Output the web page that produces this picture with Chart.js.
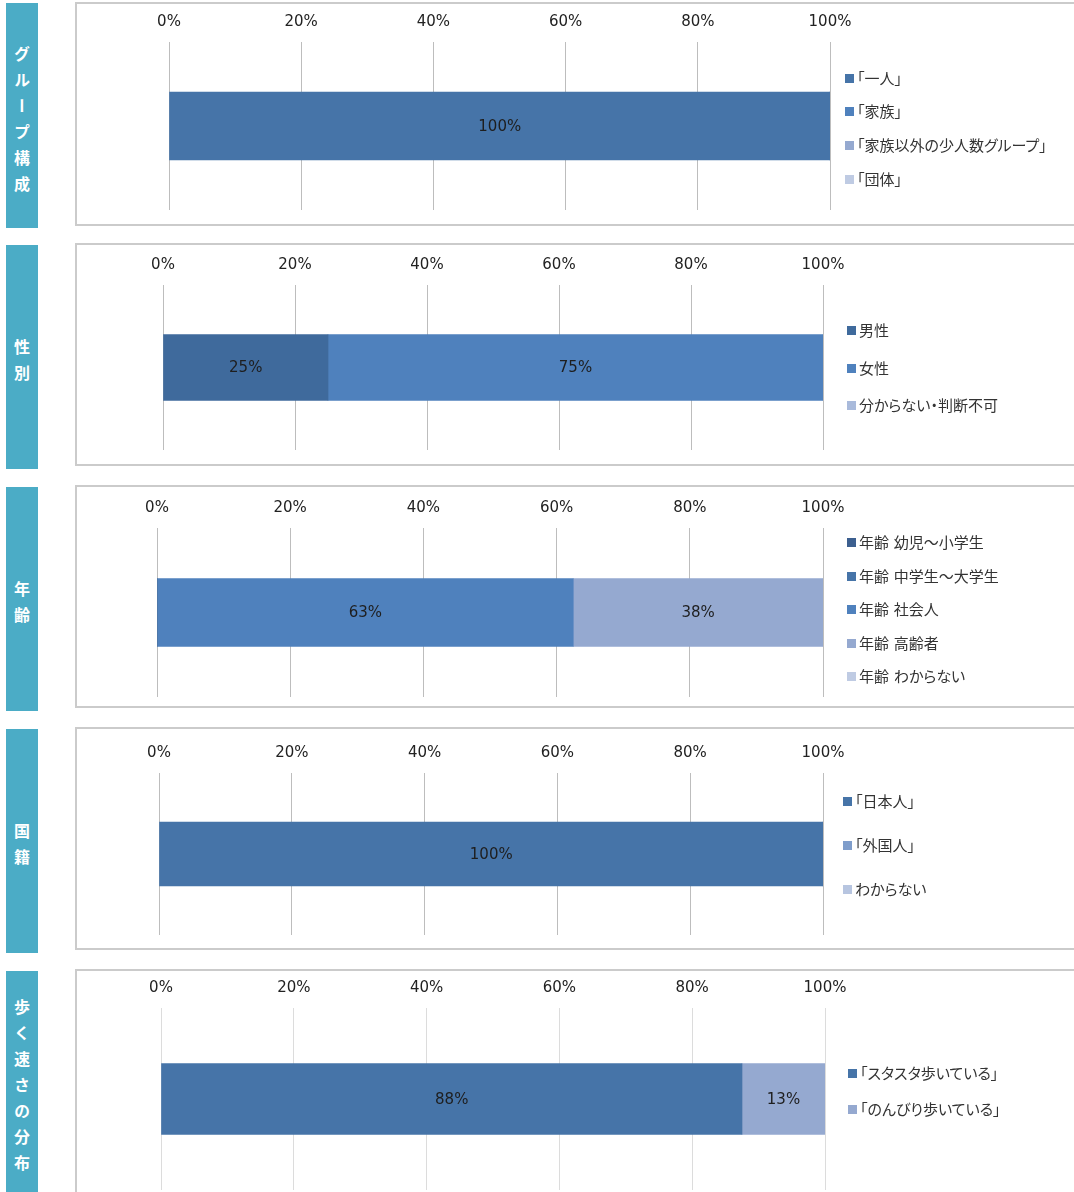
<!DOCTYPE html>
<html>
<head>
<meta charset="utf-8">
<script src="https://cdn.jsdelivr.net/npm/chart.js@4"></script>
<style>
  body { margin: 0; background: #fff; overflow: hidden; width: 1074px; height: 1192px; position: relative;
         font-family: "DejaVu Sans", "Noto Sans CJK JP", sans-serif; }
  .side { position: absolute; left: 6px; width: 32px; background: #4bacc6; color: #fff;
          display: flex; align-items: center; justify-content: center; }
  .side span { writing-mode: vertical-rl; text-orientation: upright; font-weight: bold;
               font-family: "Noto Sans CJK JP", sans-serif;
               font-size: 16px; letter-spacing: 10px; line-height: 1; margin-bottom: -16px; }
  .frame { position: absolute; left: 75px; width: 1010px; border: 2px solid #cbcbcb; box-sizing: border-box; }
  canvas { position: absolute; }
  .leg { position: absolute; font-size: 15px; color: #333; white-space: nowrap; line-height: 20px;
         font-feature-settings: "palt"; }
  .leg i { display: inline-block; width: 9px; height: 9px; margin-right: 3px; vertical-align: 1px; }
</style>
</head>
<body>
<script>
// Tick labels on the shared 0-100% axis
const tickLabels = ['0%', '20%', '40%', '60%', '80%', '100%'];

// グループ構成
const groupLabels = ['「一人」', '「家族」', '「家族以外の少人数グループ」', '「団体」'];
const groupValues = [100, 0, 0, 0];
const groupColors = ['#4674a8', '#4f81bd', '#95a9d0', '#bfcbe3'];

// 性別
const sexLabels = ['男性', '女性', '分からない・判断不可'];
const sexValues = [25, 75, 0];
const sexColors = ['#3f6a9c', '#4f81bd', '#a9badb'];

// 年齢
const ageLabels = ['年齢 幼児～小学生', '年齢 中学生～大学生', '年齢 社会人', '年齢 高齢者', '年齢 わからない'];
const ageValues = [0, 0, 62.5, 37.5, 0];
const ageColors = ['#3c5f8f', '#4674a8', '#4f81bd', '#95a9d0', '#bfcbe3'];

// 国籍
const nationLabels = ['「日本人」', '「外国人」', 'わからない'];
const nationValues = [100, 0, 0];
const nationColors = ['#4674a8', '#7f9dcb', '#b7c5e0'];

// 歩く速さの分布
const speedLabels = ['「スタスタ歩いている」', '「のんびり歩いている」'];
const speedValues = [87.5, 12.5];
const speedColors = ['#4674a8', '#95a9d0'];

// page layout of each panel (pixels)
const panels = [
  { title: 'グループ構成', labels: groupLabels, values: groupValues, colors: groupColors,
    side: [3, 228], frame: [2, 226], x0: 169, x1: 830, grid: [42, 210], bar: 68,
    legX: 845, legY: [79, 112, 146, 180], gridColor: '#bdbdbd' },
  { title: '性別', labels: sexLabels, values: sexValues, colors: sexColors,
    side: [245, 469], frame: [243, 466], x0: 163, x1: 823, grid: [285, 450], bar: 66,
    legX: 847, legY: [331, 369, 406], gridColor: '#bdbdbd' },
  { title: '年齢', labels: ageLabels, values: ageValues, colors: ageColors,
    side: [487, 711], frame: [485, 708], x0: 157, x1: 823, grid: [528, 697], bar: 68,
    legX: 847, legY: [543, 577, 610, 644, 677], gridColor: '#bdbdbd' },
  { title: '国籍', labels: nationLabels, values: nationValues, colors: nationColors,
    side: [729, 953], frame: [727, 950], x0: 159, x1: 823, grid: [773, 935], bar: 64,
    legX: 843, legY: [802, 846, 890], gridColor: '#bdbdbd' },
  { title: '歩く速さの分布', labels: speedLabels, values: speedValues, colors: speedColors,
    side: [971, 1193], frame: [969, 1200], x0: 161, x1: 825, grid: [1008, 1190], bar: 71,
    legX: 848, legY: [1074, 1110], gridColor: '#dcdcdc' }
];

const FONT = '"DejaVu Sans", "Noto Sans", sans-serif';

// draws the rounded percentage in the middle of each bar segment
const barValues = {
  id: 'barValues',
  afterDatasetsDraw(chart) {
    const ctx = chart.ctx;
    ctx.save();
    ctx.font = '15px ' + FONT;
    ctx.fillStyle = '#1e1e1e';
    ctx.textAlign = 'center';
    ctx.textBaseline = 'middle';
    chart.data.datasets.forEach((ds, i) => {
      chart.getDatasetMeta(i).data.forEach((bar, j) => {
        const v = ds.data[j];
        if (!v) return;
        const p = bar.getProps(['x', 'y', 'base'], true);
        ctx.fillText(Math.round(v) + '%', (p.x + p.base) / 2, p.y + 1);
      });
    });
    ctx.restore();
  }
};

function makePanel(p) {
  const side = document.createElement('div');
  side.className = 'side';
  side.style.top = p.side[0] + 'px';
  side.style.height = (p.side[1] - p.side[0]) + 'px';
  side.innerHTML = '<span>' + p.title + '</span>';
  document.body.appendChild(side);

  const frame = document.createElement('div');
  frame.className = 'frame';
  frame.style.top = p.frame[0] + 'px';
  frame.style.height = (p.frame[1] - p.frame[0]) + 'px';
  document.body.appendChild(frame);

  // canvas in page coords
  const cLeft = 77, cWidth = 800;
  const cTop = p.frame[0] + 2, cHeight = p.frame[1] - p.frame[0] - 4;
  const canvas = document.createElement('canvas');
  canvas.width = cWidth;
  canvas.height = cHeight;
  canvas.style.left = cLeft + 'px';
  canvas.style.top = cTop + 'px';
  document.body.appendChild(canvas);

  const tickPad = 11, labelH = 18;
  new Chart(canvas.getContext('2d'), {
    type: 'bar',
    data: {
      labels: [''],
      datasets: p.labels.map((l, i) => ({
        label: l,
        data: [p.values[i]],
        backgroundColor: p.colors[i],
        barThickness: p.bar
      }))
    },
    options: {
      indexAxis: 'y',
      responsive: false,
      animation: false,
      devicePixelRatio: 1,
      layout: {
        padding: {
          left: p.x0 - cLeft,
          right: cLeft + cWidth - p.x1,
          top: p.grid[0] - cTop - labelH - tickPad * 2,
          bottom: cTop + cHeight - p.grid[1]
        }
      },
      plugins: { legend: { display: false }, tooltip: { enabled: false } },
      scales: {
        x: {
          stacked: true, position: 'top', min: 0, max: 100,
          ticks: { stepSize: 20, padding: tickPad, color: '#222',
                   font: { size: 15, family: FONT },
                   callback: (v) => tickLabels[v / 20] },
          grid: { color: p.gridColor, drawTicks: false },
          border: { display: false }
        },
        y: { stacked: true, display: false }
      }
    },
    plugins: [barValues]
  });

  // legend, one row per series
  p.labels.forEach((l, i) => {
    const d = document.createElement('div');
    d.className = 'leg';
    d.style.left = p.legX + 'px';
    d.style.top = (p.legY[i] - 10) + 'px';
    d.innerHTML = '<i style="background:' + p.colors[i] + '"></i>' + l;
    document.body.appendChild(d);
  });
}

panels.forEach(makePanel);
</script>
</body>
</html>
